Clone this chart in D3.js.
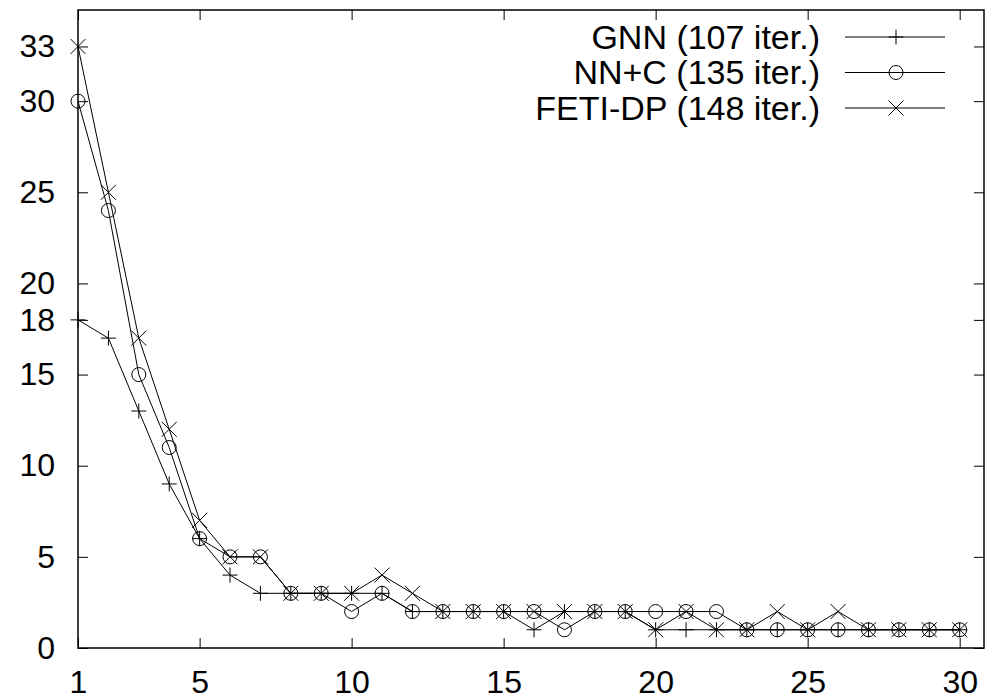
<!DOCTYPE html>
<html>
<head>
<meta charset="utf-8">
<script src="https://cdn.jsdelivr.net/npm/d3@7"></script>
<style>
  body { margin: 0; background: #fff; }
  text { font-family: "Liberation Sans", Arial, Helvetica, sans-serif; fill: #000; }
</style>
</head>
<body>
<div id="chart"></div>
<script>
// data
var steps = d3.range(1, 31);
var gnn  = [18,17,13,9,6,4,3,3,3,3, 3,2,2,2,2,1,2,2,2,1, 1,1,1,1,1,1,1,1,1,1];
var nnc  = [30,24,15,11,6,5,5,3,3,2, 3,2,2,2,2,2,1,2,2,2, 2,2,1,1,1,1,1,1,1,1];
var feti = [33,25,17,12,7,5,5,3,3,3, 4,3,2,2,2,2,2,2,2,1, 2,1,1,2,1,2,1,1,1,1];
var xTicks = [1,5,10,15,20,25,30];
var yTicks = [0,5,10,15,18,20,25,30,33];
var seriesNames = ["GNN (107 iter.)", "NN+C (135 iter.)", "FETI-DP (148 iter.)"];
var seriesMarks = ["plus", "circle", "cross"];

var W = 991, H = 700;
var margin = {top: 10, right: 7, bottom: 52, left: 78},
    width = W - margin.left - margin.right,
    height = H - margin.top - margin.bottom;

var fontSize = "32px";

var svg = d3.select("#chart")
  .append("svg")
    .attr("width", W)
    .attr("height", H);

var g = svg.append("g")
    .attr("transform", "translate(" + margin.left + "," + margin.top + ")");

var x = d3.scaleLinear().domain([1, 30.8]).range([0, width]);
var y = d3.scaleLinear().domain([0, 35]).range([height, 0]);

// axes, ticks pointing inward, mirrored on the opposite side
var tickLen = 10;
var xAxisB = d3.axisBottom(x).tickValues(xTicks).tickSizeInner(-tickLen).tickSizeOuter(0).tickPadding(22);
var xAxisT = d3.axisTop(x).tickValues(xTicks).tickSizeInner(-tickLen).tickSizeOuter(0).tickFormat("");
var yAxisL = d3.axisLeft(y).tickValues(yTicks).tickSizeInner(-tickLen).tickSizeOuter(0).tickPadding(23);
var yAxisR = d3.axisRight(y).tickValues(yTicks).tickSizeInner(-tickLen).tickSizeOuter(0).tickFormat("");

function styleAxis(sel) {
  sel.attr("font-size", null).attr("font-family", null);
  sel.select(".domain").remove();
  sel.selectAll(".tick line").attr("stroke", "#000").attr("stroke-width", 1);
  sel.selectAll(".tick text")
    .style("font-size", fontSize)
    .attr("fill", "#000");
}

g.append("g").attr("transform", "translate(0," + height + ")").call(xAxisB).call(styleAxis);
g.append("g").call(xAxisT).call(styleAxis);
g.append("g").call(yAxisL).call(styleAxis);
g.append("g").attr("transform", "translate(" + width + ",0)").call(yAxisR).call(styleAxis);

// frame
g.append("rect")
  .attr("x", 0).attr("y", 0)
  .attr("width", width).attr("height", height)
  .attr("fill", "none")
  .attr("stroke", "#000")
  .attr("stroke-width", 1.5);

// marker drawer
var ms = 7.5;
function drawMark(sel, kind, cx, cy) {
  if (kind == "plus") {
    sel.append("path")
      .attr("d", "M" + (cx - ms) + "," + cy + "H" + (cx + ms) + "M" + cx + "," + (cy - ms) + "V" + (cy + ms))
      .attr("stroke", "#000").attr("stroke-width", 1).attr("fill", "none");
  } else if (kind == "circle") {
    sel.append("circle")
      .attr("cx", cx).attr("cy", cy).attr("r", 7)
      .attr("stroke", "#000").attr("stroke-width", 1).attr("fill", "none");
  } else {
    sel.append("path")
      .attr("d", "M" + (cx - ms) + "," + (cy - ms) + "L" + (cx + ms) + "," + (cy + ms) +
                 "M" + (cx - ms) + "," + (cy + ms) + "L" + (cx + ms) + "," + (cy - ms))
      .attr("stroke", "#000").attr("stroke-width", 1).attr("fill", "none");
  }
}

var allSeries = [gnn, nnc, feti];
var line = d3.line()
  .x(function(d, i) { return x(steps[i]); })
  .y(function(d) { return y(d); });

allSeries.forEach(function(vals, k) {
  var sg = g.append("g").attr("class", "series" + k);
  sg.append("path")
    .datum(vals)
    .attr("d", line)
    .attr("fill", "none")
    .attr("stroke", "#000")
    .attr("stroke-width", 1);
  vals.forEach(function(v, i) {
    drawMark(sg, seriesMarks[k], x(steps[i]), y(v));
  });
});

// legend
var legX = 820, legY0 = 37, legDy = 35.5;
var leg = svg.append("g").attr("class", "legend");
seriesNames.forEach(function(name, k) {
  var ly = legY0 + k * legDy;
  leg.append("text")
    .attr("x", legX)
    .attr("y", ly)
    .attr("dy", "0.35em")
    .attr("text-anchor", "end")
    .style("font-size", "34px")
    .text(name);
  leg.append("line")
    .attr("x1", 845).attr("x2", 945)
    .attr("y1", ly).attr("y2", ly)
    .attr("stroke", "#000").attr("stroke-width", 1);
  drawMark(leg, seriesMarks[k], 896, ly);
});
</script>
</body>
</html>
